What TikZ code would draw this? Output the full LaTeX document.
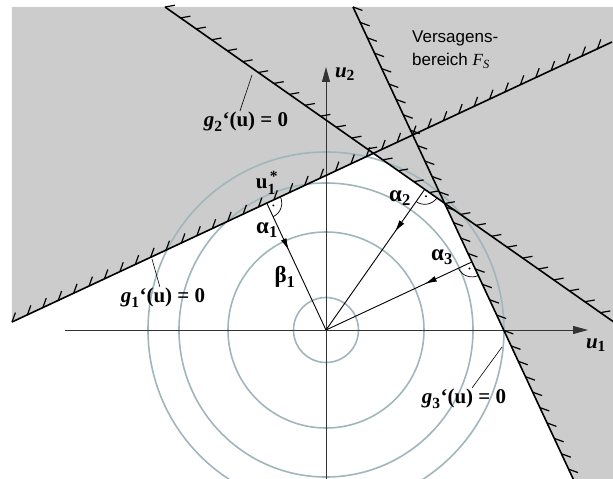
\documentclass[tikz,border=0pt]{standalone}
\usepackage{amsmath}
\usepackage{fontspec}
\setmainfont{Liberation Serif}
\setsansfont{Liberation Sans}
\usetikzlibrary{arrows.meta,positioning,calc,decorations.pathreplacing,decorations.markings}
\definecolor{fsGray}{HTML}{CCCCCC}
\definecolor{fsRing}{HTML}{A0B6BA}
\definecolor{fsAxis}{HTML}{333333}
\DeclareMathSizes{21}{21}{15.5}{12}
\DeclareMathSizes{23}{23}{16.5}{13}
\DeclareMathSizes{17}{17}{12.5}{10}
\newcommand{\glim}[1]{$\textbf{\textit{g}}_{\textbf{#1}}$\textbf{‘(u) = 0}}

\begin{document}
\begin{tikzpicture}[x=1pt,y=1pt,
    lbl/.style={inner sep=1pt,font=\fontsize{21}{24}\selectfont},
    grk/.style={inner sep=1pt,font=\fontsize{23}{26}\selectfont},
    limit/.style={line width=1.6pt,postaction={draw,line width=1.2pt,decorate,
        decoration={border,segment length=#1,amplitude=10pt,angle=45}}},
    limit/.default=17pt,
    ring/.style={draw=fsRing,line width=1.6pt},
    axis/.style={draw=fsAxis,line width=0.9pt,-{Triangle[length=15pt,width=8pt]}},
    vec/.style={line width=0.9pt,postaction={decorate,decoration={markings,
        mark=at position 52pt with {\arrow{Latex[length=12pt,width=6pt]}}}}},
    leader/.style={line width=0.6pt},
    rangle/.style={line width=0.7pt}]
  \useasboundingbox (-326,-149) rectangle (287,330);
  \clip (-326,-149) rectangle (287,330);
  % limit state lines
  \coordinate (O) at (0,0);
  \coordinate (a1) at (-314,8);   \coordinate (b1) at (286,288);
  \coordinate (a2) at (-161,323); \coordinate (b2) at (295,2.9);
  \coordinate (a3) at (27,323);   \coordinate (b3) at (250,-155);
  \coordinate (c12) at (intersection of a1--b1 and a2--b2);
  \coordinate (c23) at (intersection of a2--b2 and a3--b3);
  % failure domain
  \fill[fsGray] (-314,323) -- (287,323) -- (287,-155) -- (b3) -- (c23)
     -- (c12) -- (a1) -- cycle;
  \foreach \r in {32.5,98,147,178}
    \draw[ring] (O) circle[radius=\r];
  \coordinate (x0) at (-261,0); \coordinate (x1) at (262,0);
  \coordinate (y0) at (0,-152); \coordinate (y1) at (0,263);
  \draw[axis] (x0) -- (x1);
  \draw[axis] (y0) -- (y1);
  % design points
  \coordinate (f1) at ($(a1)!(O)!(b1)$);
  \coordinate (f2) at ($(a2)!(O)!(b2)$);
  \coordinate (f3) at ($(a3)!(O)!(b3)$);
  \draw[vec] (f1) -- (O);
  \draw[vec] (f2) -- (O);
  \draw[vec] (f3) -- (O);
  \draw[limit] (a1) -- (b1);
  \draw[limit=19pt] (a2) -- (b2);
  \draw[limit] (a3) -- (b3);
  % right angles
  \draw[rangle] (f1) ++(25:15) arc[start angle=25,end angle=-65,radius=15];
  \fill (f1) ++(-20:7) circle[radius=1.1pt];
  \draw[rangle] (f2) ++(235:15) arc[start angle=235,end angle=325,radius=15];
  \fill (f2) ++(280:7) circle[radius=1.1pt];
  \draw[rangle] (f3) ++(205:15) arc[start angle=205,end angle=295,radius=15];
  \fill (f3) ++(250:7) circle[radius=1.1pt];
  % labels
  \node[lbl] (us) at (-59,147) {$\textbf{u}_{\textbf{1}}^{\,\textbf{*}}$};
  \node[grk] (al1) at (-59,100) {$\textbf{α}_{\textbf{1}}$};
  \node[grk] (be1) at (-41,53) {$\textbf{β}_{\textbf{1}}$};
  \node[grk] (al2) at (74,132) {$\textbf{α}_{\textbf{2}}$};
  \node[grk] (al3) at (116,73) {$\textbf{α}_{\textbf{3}}$};
  \node[lbl] (lu1) at (270,-15) {$\textbf{\textit{u}}_{\textbf{1}}$};
  \node[lbl] (lu2) at (19,256) {$\textbf{\textit{u}}_{\textbf{2}}$};
  \node[lbl] (lg1) at (-163,32) {\glim{1}};
  \node[lbl] (lg2) at (-80,208) {\glim{2}};
  \node[lbl] (lg3) at (138,-69) {\glim{3}};
  \node[font=\sffamily\fontsize{17}{23}\selectfont,align=left,anchor=north west,
        inner sep=0pt] (fs) at (86,299)
       {Versagens-\\bereich {\rmfamily\itshape F}$_{\text{\rmfamily\itshape S}}$};
  \coordinate (t1) at (-174,71);
  \coordinate (t2) at (-74,255);
  \coordinate (t3) at (176,-17);
  \draw[leader] (lg1) -- (t1);
  \draw[leader] ([xshift=-6pt]lg2.north) -- (t2);
  \draw[leader] (lg3) -- (t3);
\end{tikzpicture}
\end{document}
